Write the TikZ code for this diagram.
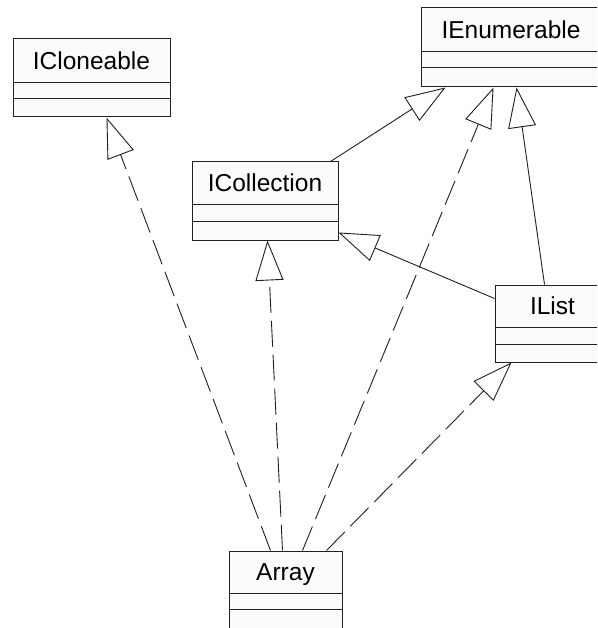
\documentclass[tikz,border=0pt]{standalone}
\usepackage{fontspec}
\setmainfont{Liberation Sans}
\usetikzlibrary{arrows.meta,calc}
\definecolor{linecol}{HTML}{202020}
\definecolor{boxfill}{HTML}{FBFBFB}
\tikzset{
  classbox/.style={draw=linecol, fill=boxfill, line width=1pt, inner sep=0pt, rectangle},
  classname/.style={inner sep=0pt, anchor=base, font=\fontsize{24.5}{29}\selectfont, text=black},
  compline/.style={draw=linecol, line width=0.9pt},
  gentip/.style={-{Triangle[open,length=40pt,width=28pt,line width=0.9pt]}},
  realize/.style={draw=linecol, line width=0.9pt, dash pattern=on 26pt off 8pt, gentip},
  generalize/.style={draw=linecol, line width=0.9pt, gentip}
}
\newcommand\classbox[8]{%
  \node[classbox, minimum width={(#4-#2)*1pt}, minimum height={(#7-#3)*1pt}] (#1) at ({(#2+#4)/2},{(#3+#7)/2}) {};
  \node[classname] (#1-name) at ({(#2+#4)/2},{(#3+#5)/2+8.8}) {#8};
  \draw[compline] (#2,#5) -- (#4,#5);
  \draw[compline] (#2,#6) -- (#4,#6);
}
\begin{document}
\begin{tikzpicture}[x=1pt,y=-1pt]
  \useasboundingbox (0,0) rectangle (597,628);
  \clip (0,0) rectangle (597,628);
  \fill[white] (0,0) rectangle (597,628);
  % classes
  \classbox{cloneable}{13}{39}{170}{82}{98}{117}{ICloneable}
  \classbox{enumerable}{421}{8}{601}{51}{67}{87}{IEnumerable}
  \classbox{collection}{192}{162}{338}{204}{221}{240}{ICollection}
  \classbox{ilist}{495}{285}{610}{327}{344}{362}{IList}
  \classbox{array}{229}{551}{342}{593}{609}{650}{Array}
  % attachment points
  \coordinate (a1) at ($(array.north west)+(42,0)$);
  \coordinate (a2) at ($(array.north west)+(54,0)$);
  \coordinate (a3) at ($(array.north west)+(74,0)$);
  \coordinate (a4) at ($(array.north west)+(98,0)$);
  \coordinate (clB) at ($(cloneable.south west)+(94,0)$);
  \coordinate (coB) at ($(collection.south west)+(76,0)$);
  \coordinate (coR) at ($(collection.north east)+(0,71)$);
  \coordinate (coT) at ($(collection.north east)+(-8,0)$);
  \coordinate (enB1) at ($(enumerable.south west)+(25,0)$);
  \coordinate (enB2) at ($(enumerable.south west)+(73,0)$);
  \coordinate (enB3) at ($(enumerable.south west)+(96,0)$);
  \coordinate (liB) at ($(ilist.south west)+(17,0)$);
  \coordinate (liT) at ($(ilist.north west)+(50,0)$);
  \coordinate (liL) at ($(ilist.north west)+(0,14)$);
  % realizations
  \draw[realize] (a1) -- (clB);
  \draw[realize] (a2) -- (coB);
  \draw[realize] (a3) -- (enB2);
  \draw[realize] (a4) -- (liB);
  % generalizations
  \draw[generalize] (coT) -- (enB1);
  \draw[generalize] (liT) -- (enB3);
  \draw[generalize] (liL) -- (coR);
\end{tikzpicture}
\end{document}
